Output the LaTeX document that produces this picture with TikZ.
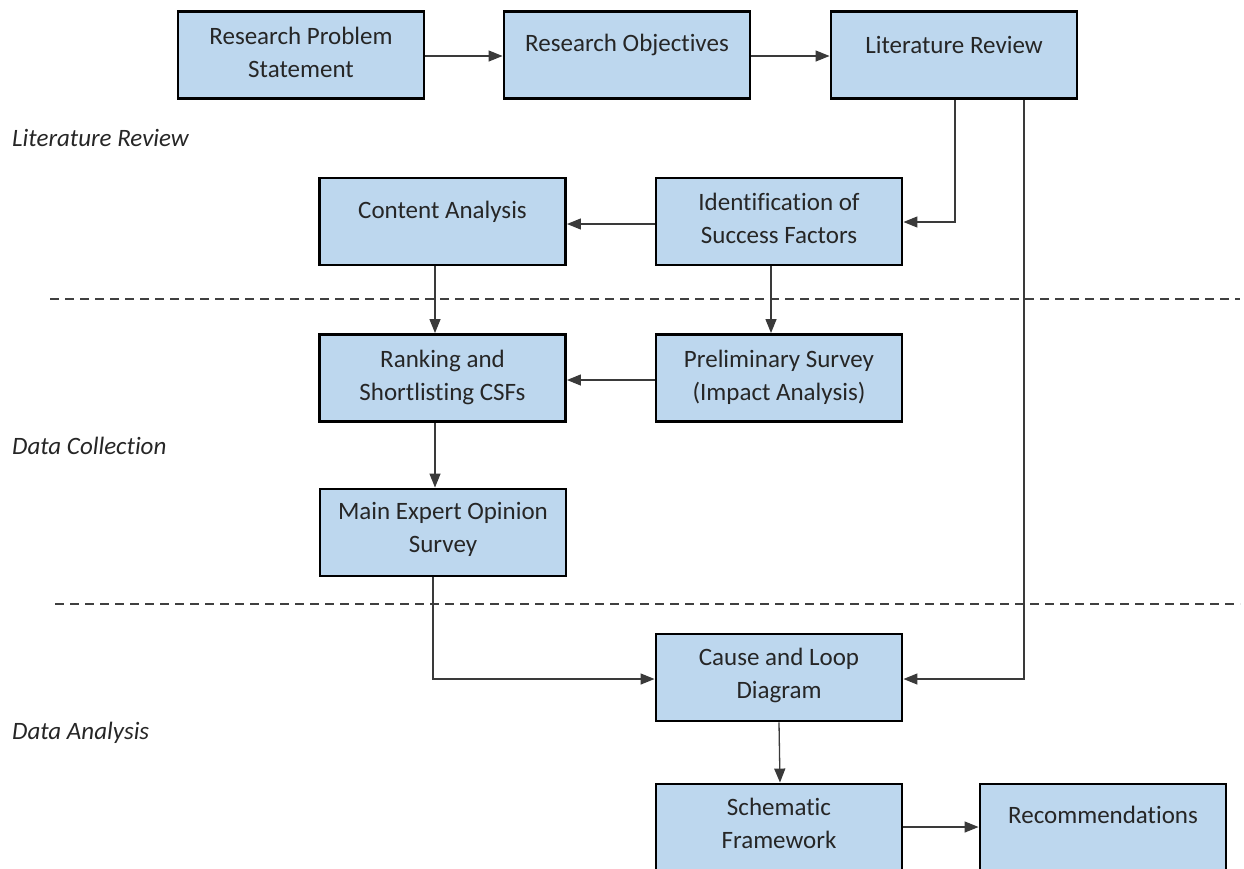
\documentclass[tikz,border=0pt]{standalone}
\usepackage{fontspec}
\setmainfont{Carlito}[Ligatures={NoCommon,NoDiscretionary,NoRare}]
\usetikzlibrary{arrows.meta}
\definecolor{boxfill}{HTML}{BDD7EE}
\definecolor{txt}{HTML}{262626}
\definecolor{conn}{HTML}{3A3A3A}
\tikzset{
  stagebox/.style={draw=black, line width=2.9pt, fill=boxfill, minimum width=246pt, minimum height=87pt, inner sep=0pt},
  boxtext/.style={text=txt, font=\fontsize{25}{33}\selectfont, align=center, inner sep=0pt},
  phase/.style={text=txt, font=\fontsize{25}{28}\selectfont\itshape, anchor=west, inner sep=0pt},
  conn/.style={draw=conn, line width=1.3pt, -{Triangle[length=14pt,width=11pt]}},
  sep/.style={draw=black!75, line width=1.3pt, dash pattern=on 9pt off 6pt}
}
\begin{document}
\begin{tikzpicture}[x=1pt,y=-1pt]
\useasboundingbox (0,0) rectangle (1244,868);

% stage boxes
\node[stagebox] (rps)  at (301,55)    {};
\node[stagebox] (ro)   at (627,55)    {};
\node[stagebox] (lr)   at (954,55)    {};
\node[stagebox] (ca)   at (442.5,221.5) {};
\node[stagebox] (isf)  at (779,221.5) {};
\node[stagebox] (rank) at (442.5,378) {};
\node[stagebox] (ps)   at (779,378)   {};
\node[stagebox] (meo)  at (443,532.5) {};
\node[stagebox] (cld)  at (779,677.5) {};
\node[stagebox] (sf)   at (779,827.5) {};
\node[stagebox] (rec)  at (1103,827.5) {};

% box captions
\node[boxtext] at (301,52)   {Research Problem\\Statement};
\node[boxtext] at (627,45)   {Research Objectives};
\node[boxtext] at (954,45)   {Literature Review};
\node[boxtext] at (442.5,212) {Content Analysis};
\node[boxtext] at (779,218) {Identification of\\Success Factors};
\node[boxtext] at (442.5,377.5) {Ranking and\\Shortlisting CSFs};
\node[boxtext] at (779,377.5)  {Preliminary Survey\\(Impact Analysis)};
\node[boxtext] at (443,529.5)  {Main Expert Opinion\\Survey};
\node[boxtext] at (779,675.5)  {Cause and Loop\\Diagram};
\node[boxtext] at (779,823.5)  {Schematic\\Framework};
\node[boxtext] at (1103,815) {Recommendations};

% phase labels
\node[phase] (p1) at (12,138) {Literature Review};
\node[phase] (p2) at (12,446) {Data Collection};
\node[phase] (p3) at (12,733) {Data Analysis};

% phase separators
\coordinate (s1a) at (50,299);
\coordinate (s1b) at (1240,299);
\coordinate (s2a) at (55,604);
\coordinate (s2b) at (1240,604);
\draw[sep] (s1a) -- (s1b);
\draw[sep] (s2a) -- (s2b);

% connectors
\draw[conn] (rps.east |- 0,56) -- (ro.west |- 0,56);
\draw[conn] (ro.east |- 0,56) -- (lr.west |- 0,56);
\draw[conn] (lr.south -| 955,0) |- (isf.east |- 0,222);
\draw[conn] (lr.south -| 1024,0) |- (cld.east |- 0,679);
\draw[conn] (isf.west |- 0,224) -- (ca.east |- 0,224);
\draw[conn] (ca.south -| 435,0) -- (rank.north -| 435,0);
\draw[conn] (isf.south -| 771,0) -- (ps.north -| 771,0);
\draw[conn] (ps.west |- 0,380) -- (rank.east |- 0,380);
\draw[conn] (rank.south -| 435,0) -- (meo.north -| 435,0);
\draw[conn] (meo.south -| 433,0) |- (cld.west |- 0,679);
\draw[conn] (cld.south -| 779,0) -- (sf.north -| 780,0);
\draw[conn] (sf.east |- 0,827) -- (rec.west |- 0,827);
\end{tikzpicture}
\end{document}
